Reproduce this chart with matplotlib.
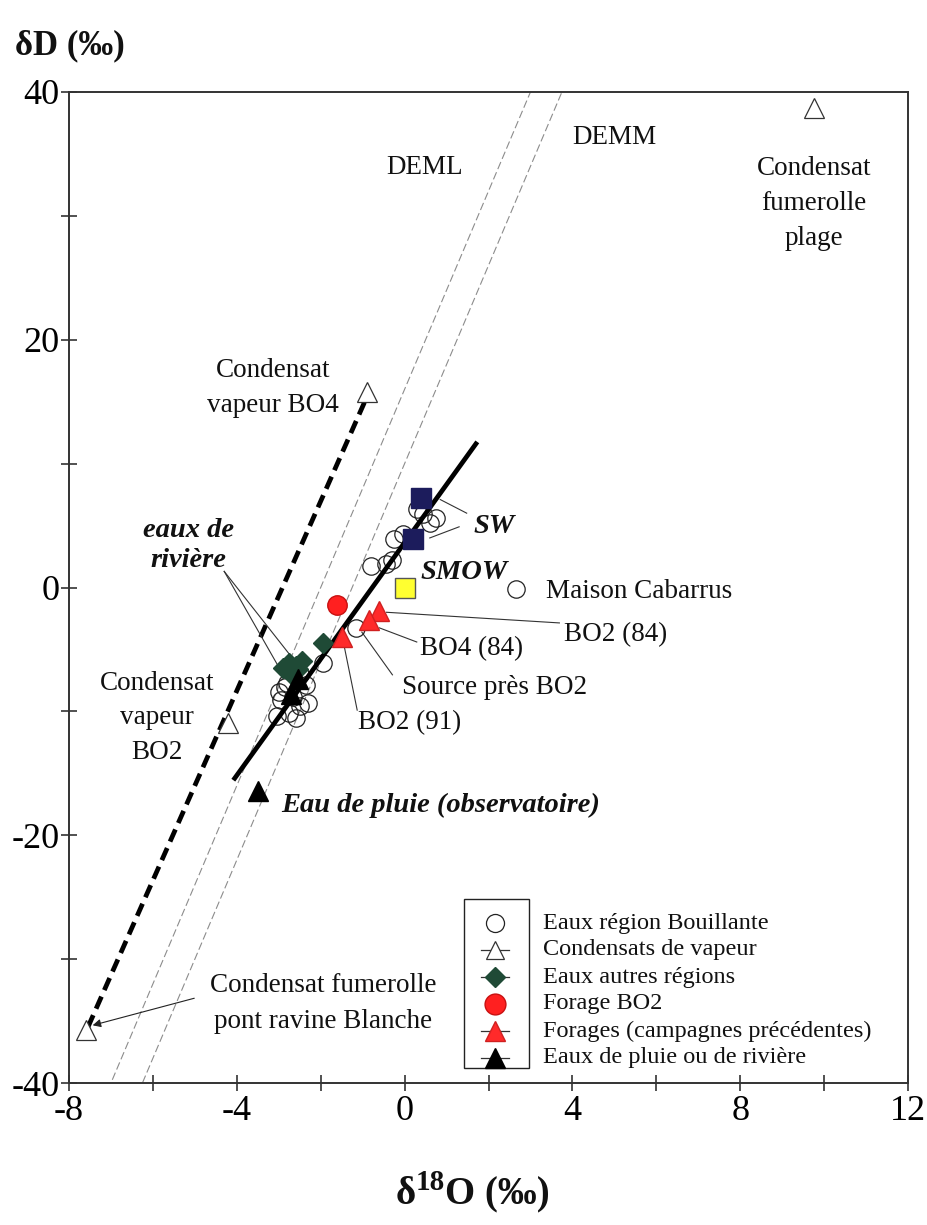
import numpy as np
import matplotlib
matplotlib.use("Agg")
import matplotlib.pyplot as plt
from matplotlib.lines import Line2D
from matplotlib.patches import Rectangle
from matplotlib.transforms import offset_copy

plt.rcParams["font.family"] = ["Liberation Serif", "DejaVu Serif"]
plt.rcParams["axes.unicode_minus"] = False

# delta 18O / delta D (permil vs SMOW)
bouillante_x = [0.45, 0.75, 0.6, 0.3, -0.25, -0.05, -0.8, -0.45, -0.3, -1.15, -1.95,
                -2.8, -3.0, -2.35, -2.3, -3.05, -2.75, -2.5, -2.65, -2.95, -2.5, -2.85, -2.6,
                2.65]
bouillante_y = [5.9, 5.6, 5.2, 6.3, 3.9, 4.3, 1.7, 1.9, 2.2, -3.3, -6.1,
                -7.7, -8.4, -7.9, -9.3, -10.4, -10.1, -9.6, -8.8, -9.1, -7.0, -8.0, -10.5,
                -0.1]
condensat_x = [9.75, -0.9, -4.2, -7.6]
condensat_y = [38.7, 15.8, -10.9, -35.7]
autres_x = [-1.95, -2.75, -2.9, -2.55, -2.7, -2.45, -2.6]
autres_y = [-4.5, -6.1, -6.5, -6.6, -7.0, -5.9, -6.3]
forage_bo2_x = [-1.6]
forage_bo2_y = [-1.4]
forages_prec_x = [-0.6, -0.85, -1.5]
forages_prec_y = [-1.9, -2.6, -4.0]
pluie_x = [-2.55, -2.7, -3.5]
pluie_y = [-7.4, -8.6, -16.4]
sw_x = [0.38, 0.19]
sw_y = [7.2, 3.9]
smow_x = [0.0]
smow_y = [0.0]

# regression through Bouillante waters and vapour mixing trend
trend_x = [-4.05, 1.7]
trend_y = [-15.4, 11.6]
vapeur_x = [-7.55, -0.95]
vapeur_y = [-35.5, 15.0]

# meteoric water lines dD = 8 d18O + d
deml_excess = 16
demm_excess = 10

x_ticks = [-8, -4, 0, 4, 8, 12]
y_ticks = [-40, -20, 0, 20, 40]

fig = plt.figure(figsize=(9.27, 12.25), dpi=100)
ax = fig.add_axes([69 / 927, 1 - 1083 / 1225, 839 / 927, 991 / 1225])
ax.set_xlim(-8, 12)
ax.set_ylim(-40, 40)

for s in ax.spines.values():
    s.set_linewidth(1.4)
    s.set_color("#333333")

ax.set_xticks(x_ticks)
ax.set_xticklabels([str(v) for v in x_ticks])
ax.set_xticks(np.arange(-8, 13, 2), minor=True)
ax.set_yticks(y_ticks)
ax.set_yticklabels([str(v) for v in y_ticks])
ax.set_yticks(np.arange(-40, 41, 10), minor=True)
ax.tick_params(which="both", direction="inout", length=12, width=1.2, color="#333333")
ax.tick_params(axis="x", labelsize=26, pad=3)
ax.tick_params(axis="y", labelsize=26, pad=1)

# meteoric lines
mx = np.array([-8.0, 12.0])
ax.plot(mx, 8 * mx + deml_excess, color="0.55", lw=0.8, dashes=(7, 3), zorder=1)
ax.plot(mx, 8 * mx + demm_excess, color="0.55", lw=0.8, dashes=(7, 3), zorder=1)

ax.plot(vapeur_x, vapeur_y, color="black", lw=3.4, dashes=(2.8, 1.5), zorder=2)
ax.plot(trend_x, trend_y, color="black", lw=3.4, zorder=4)

ax.plot(bouillante_x, bouillante_y, "o", ms=12.5, mfc="none", mec="#222222", mew=0.9, zorder=3)
ax.plot(condensat_x, condensat_y, "^", ms=14, mfc="white", mec="#333333", mew=0.9, zorder=5)
ax.plot(autres_x, autres_y, "D", ms=10, mfc="#1f4a36", mec="#1f4a36", zorder=5)
ax.plot(pluie_x, pluie_y, "^", ms=15, mfc="black", mec="black", zorder=5)
ax.plot(forage_bo2_x, forage_bo2_y, "o", ms=14, mfc="#ff2020", mec="#c81010", zorder=5)
ax.plot(forages_prec_x, forages_prec_y, "^", ms=15, mfc="#ff2a2a", mec="#d02020", zorder=5)
ax.plot(sw_x, sw_y, "s", ms=15, mfc="#1c1c5c", mec="#1c1c5c", zorder=5)
ax.plot(smow_x, smow_y, "s", ms=15, mfc="#ffff30", mec="#555555", mew=1.0, zorder=5)

# annotations
txt = dict(fontsize=19.5, color="#111111")
bi = dict(fontsize=20.5, fontweight="bold", fontstyle="italic", color="#111111")
lw_ann = 0.8

ax.text(0.48, 33.9, "DEML", ha="center", va="center", **txt)
ax.text(5.0, 36.3, "DEMM", ha="center", va="center", **txt)
ax.text(9.76, 31.0, "Condensat\nfumerolle\nplage", ha="center", va="center",
        linespacing=1.55, **txt)
ax.text(-3.14, 16.1, "Condensat\nvapeur BO4", ha="center", va="center",
        linespacing=1.55, **txt)
ax.text(-5.9, -10.5, "Condensat\nvapeur\nBO2", ha="center", va="center",
        linespacing=1.5, **txt)
ax.text(-1.95, -33.6, "Condensat fumerolle\npont ravine Blanche", ha="center",
        va="center", linespacing=1.55, **txt)
ax.annotate("", xy=(-7.5, -35.4), xytext=(-4.95, -33.1),
            arrowprops=dict(arrowstyle="-|>", lw=lw_ann, color="#222222",
                            mutation_scale=12))

ax.text(-5.15, 3.4, "eaux de\nrivière", ha="center", va="center", linespacing=1.3, **bi)
ax.plot([-4.3, -2.72], [1.3, -5.5], color="#333333", lw=lw_ann, zorder=2)
ax.plot([-4.3, -2.97], [1.3, -6.6], color="#333333", lw=lw_ann, zorder=2)

ax.text(1.65, 4.9, "SW", ha="left", va="center", **bi)
ax.plot([1.48, 0.85], [6.0, 7.1], color="#333333", lw=lw_ann, zorder=2)
ax.plot([1.3, 0.6], [4.9, 4.0], color="#333333", lw=lw_ann, zorder=2)
ax.text(0.38, 1.2, "SMOW", ha="left", va="center", **bi)
ax.text(3.38, -0.3, "Maison Cabarrus", ha="left", va="center", **txt)

ax.text(3.8, -3.8, "BO2 (84)", ha="left", va="center", **txt)
ax.plot([-0.43, 3.69], [-2.0, -2.86], color="#333333", lw=lw_ann, zorder=2)
ax.text(0.36, -4.9, "BO4 (84)", ha="left", va="center", **txt)
ax.plot([-0.6, 0.29], [-3.26, -4.4], color="#333333", lw=lw_ann, zorder=2)
ax.text(-0.07, -8.1, "Source près BO2", ha="left", va="center", **txt)
ax.plot([-1.02, -0.29], [-3.6, -7.05], color="#333333", lw=lw_ann, zorder=2)
ax.text(-1.12, -10.9, "BO2 (91)", ha="left", va="center", **txt)
ax.plot([-1.48, -1.13], [-4.07, -9.9], color="#333333", lw=lw_ann, zorder=2)

ax.text(-2.95, -17.6, "Eau de pluie (observatoire)", ha="left", va="center", **bi)


# legend: framed symbol column, labels outside the frame
def px_to_axes(px, py):
    return (px - 69) / 839, (1083 - py) / 991


x0, y0 = px_to_axes(464, 1068)
x1, y1 = px_to_axes(529, 899)
ax.add_patch(Rectangle((x0, y0), x1 - x0, y1 - y0, transform=ax.transAxes,
                       facecolor="white", edgecolor="#222222", lw=1.0, zorder=6))

legend_labels = [
    "Eaux région Bouillante",
    "Condensats de vapeur",
    "Eaux autres régions",
    "Forage BO2",
    "Forages (campagnes précédentes)",
    "Eaux de pluie ou de rivière",
]
legend_styles = [
    dict(marker="o", ms=13, mfc="none", mec="#222222", mew=0.9, line=False),
    dict(marker="^", ms=13, mfc="white", mec="#333333", mew=0.9, line=True),
    dict(marker="D", ms=10, mfc="#1f4a36", mec="#1f4a36", line=True),
    dict(marker="o", ms=15, mfc="#ff2020", mec="#c81010", line=False),
    dict(marker="^", ms=14, mfc="#ff2a2a", mec="#d02020", line=True),
    dict(marker="^", ms=14, mfc="black", mec="black", line=True),
]
for i, (label, st) in enumerate(zip(legend_labels, legend_styles)):
    py = 923 + 27 * i
    mx0, my = px_to_axes(481, py)
    mx1, _ = px_to_axes(509, py)
    mc, _ = px_to_axes(495, py)
    if st.pop("line"):
        ax.add_line(Line2D([mx0, mx1], [my, my], transform=ax.transAxes,
                           color="#333333", lw=0.9, zorder=7))
    ax.add_line(Line2D([mc], [my], transform=ax.transAxes, ls="none", zorder=8, **st))
    tx, ty = px_to_axes(543, py)
    ax.text(tx, ty, label, transform=ax.transAxes, ha="left", va="center",
            fontsize=17.5, color="#111111", zorder=8)

lab = dict(fontweight="bold", color="#111111")
fig.text(15 / 927, 1 - 46 / 1225, "δD (‰)", ha="left", va="center", fontsize=25, **lab)

# x label built piecewise so the 18 superscript stays large
renderer = fig.canvas.get_renderer()
pieces = [("δ", 28, 0), ("18", 21, 9), ("O (‰)", 28, 0)]
x_px = 396
for s, size, rise in pieces:
    t = fig.text(x_px / 927, 1 - 1195 / 1225, s, ha="left", va="center",
                 fontsize=size, **lab)
    t.set_transform(offset_copy(fig.transFigure, fig=fig, x=0, y=rise, units="points"))
    x_px += t.get_window_extent(renderer).width

fig.savefig("out.png", dpi=100, facecolor="white")
